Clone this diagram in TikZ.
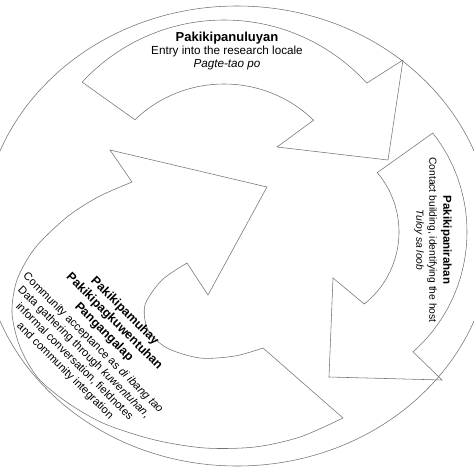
\documentclass[tikz,border=0pt]{standalone}
\usepackage{fontspec}
\setmainfont{Liberation Sans}
\usetikzlibrary{positioning}

\tikzset{
  ring/.style={draw=black!55, line width=0.55pt},
  cyclearrow/.style={draw=black!55, line width=0.55pt, line join=miter},
  lbl/.style={align=center, inner sep=0pt, text=black},
  bigfont/.style={font=\fontsize{11.7}{12.5}\selectfont},
  smallfont/.style={font=\fontsize{10.3}{13}\selectfont},
  slantfont/.style={font=\fontsize{11.2}{13.2}\selectfont},
}

\begin{document}
\begin{tikzpicture}[x=1pt, y=-1pt]
\clip (0,0) rectangle (474,474);
\fill[white] (0,0) rectangle (474,474);

% outer ring
\draw[ring] (237,236) ellipse [x radius=255, y radius=230];

% centres of the two round arrows
\coordinate (c1) at (224,213);
\coordinate (c2) at (307,232);

% arrow 1 (top)
\draw[cyclearrow] ([shift={(c1)}]-137.3:193) arc[start angle=-137.3, end angle=-42.3, radius=193]
  -- (403,60) -- (388,160) -- (277,147)
  -- ([shift={(c1)}]-46:129) arc[start angle=-46, end angle=-133.7, radius=129] -- cycle;

% arrow 2 (right)
\draw[cyclearrow] ([shift={(c2)}]-38.2:160) arc[start angle=-38.2, end angle=48.5, radius=160]
  -- (442,380) -- (329,377) -- (333,278)
  -- ([shift={(c2)}]51.5:92) arc[start angle=51.5, end angle=-40.2, radius=92] -- cycle;

% arrow 3 (left)
\draw[cyclearrow] plot[smooth] coordinates {(343,418) (300,437) (255,447) (205,448) (155,440)
    (105,424) (68,403) (38,378) (20,347) (12,313) (17,280) (35,248) (67,217) (98,197) (132,182)}
  -- (110,150) -- (267,187) -- (208,295)
  -- plot[smooth] coordinates {(187,263) (162,280) (145,305) (148,330) (167,348) (200,358)
    (235,356) (263,348)} -- cycle;

% labels
\node[lbl, bigfont] (entry) at (227,51)
  {{\fontsize{13}{14}\selectfont\bfseries Pakikipanuluyan}\\[1pt]
   Entry into the research locale\\
   {\itshape Pagte-tao po}};
\node[lbl, smallfont, rotate=-90] (contact) at (433,240)
  {{\fontsize{11.5}{13}\selectfont\bfseries Pakikipanirahan}\\[1pt]
   Contact building, identifying the host\\
   {\itshape Tuloy sa loob}};
\node[lbl, slantfont, rotate=-45] (community) at (95,341)
  {{\fontsize{12.4}{14.5}\selectfont\bfseries Pakikipamuhay}\\[1.5pt]
   {\fontsize{12.4}{14.5}\selectfont\bfseries Pakikipagkuwentuhan}\\[1.5pt]
   {\fontsize{12.4}{14.5}\selectfont\bfseries Pangangalap}\\[2pt]
   Community acceptance as {\itshape di ibang tao}\\
   Data gathering through {\itshape kuwentuhan},\\
   informal conversation, fieldnotes\\
   and community integration};
\end{tikzpicture}
\end{document}
